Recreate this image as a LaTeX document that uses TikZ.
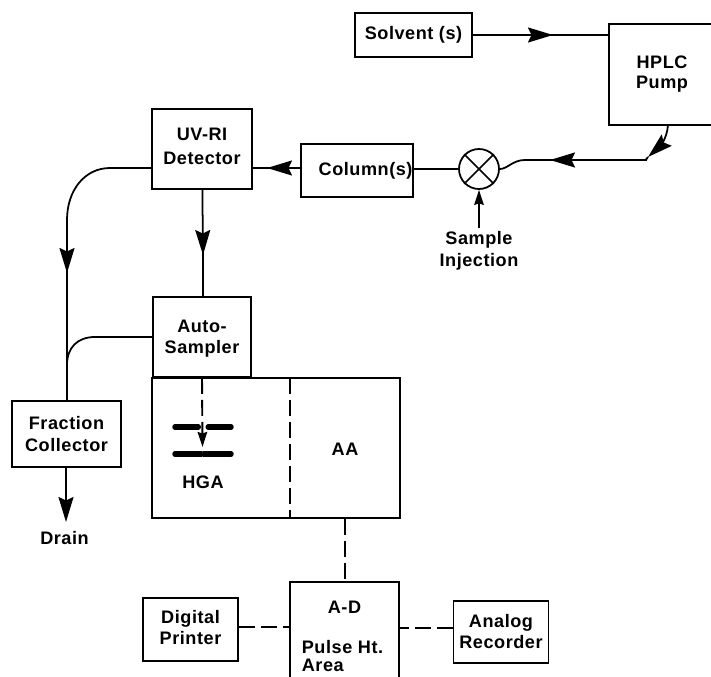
\documentclass[tikz,border=0pt]{standalone}
\usepackage{fontspec}
\setmainfont[LetterSpace=3]{Liberation Sans}
\usetikzlibrary{arrows.meta}

\begin{document}
\begin{tikzpicture}[
  box/.style={draw, line width=1pt, minimum width=#1, align=center, font=\fontsize{10.3}{12}\selectfont\bfseries},
  lbl/.style={align=center, inner sep=0pt, font=\fontsize{10.3}{12.5}\selectfont\bfseries},
  line/.style={line width=1pt},
  tail/.style={line width=1pt, shorten <=-0.12cm},
  thead/.style={line width=1pt, -{Stealth[length=0.5cm, width=0.3cm, inset=0.07cm]}},
  smallhead/.style={line width=1pt, -{Stealth[length=0.3cm, width=0.19cm, inset=0.03cm]}},
  dashline/.style={line width=1.1pt, dash pattern=on 0.32cm off 0.12cm},
  bar/.style={line width=0.11cm, line cap=round}
]
  % Page
  \useasboundingbox (0, 0) rectangle (14.22, -13.54);

  % Top row
  \node[box=2.34cm, minimum height=0.88cm] (solvent) at (8.27, -0.70) {Solvent (s)};
  \node[box=2.12cm, minimum height=2.02cm] (pump) at (13.24, -1.49) {HPLC\\[-0.02cm]Pump};
  \node[box=2.24cm, minimum height=1.06cm, text width=2.22cm, inner xsep=0.01cm, align=right] (column) at (7.14, -3.41) {Column(s)};
  \node[draw, line, circle, minimum size=0.8cm, inner sep=0pt] (mixer) at (9.58, -3.38) {};
  \node[lbl, outer sep=0.08cm] (sample) at (9.58, -5.02) {Sample\\Injection};
  \node[box=2.0cm, minimum height=1.6cm, text depth=0.12cm] (detector) at (4.04, -2.98) {UV-RI\\[0.06cm]Detector};

  % Left side
  \node[box=1.96cm, minimum height=1.6cm, text depth=0cm] (sampler) at (4.04, -6.74) {Auto-\\Sampler};
  \node[box=2.18cm, minimum height=1.32cm] (collector) at (1.33, -8.68) {Fraction\\Collector};
  \node[lbl] (drain) at (1.29, -10.76) {Drain};

  % Furnace and flame
  \node[draw, line, minimum width=4.96cm, minimum height=2.8cm] (atomizer) at (5.52, -8.96) {};
  \node[lbl] (hga) at (4.06, -9.64) {HGA};
  \node[lbl] (aa) at (6.90, -8.98) {AA};
  \coordinate (top) at (5.80, -7.56);
  \coordinate (bottom) at (5.80, -10.36);
  \node[inner sep=0pt] (upperl) at (3.99, -8.54) {};
  \node[inner sep=0pt] (upperr) at (4.14, -8.54) {};
  \node[inner sep=0pt] (lower) at (4.05, -9.08) {};

  % Read out
  \node[draw, line, minimum width=2.18cm, minimum height=2.4cm] (ad) at (6.89, -12.84) {};
  \node[lbl] (adtop) at (6.89, -12.14) {A-D};
  \node[lbl, align=left] (adtext) at (6.85, -13.12) {Pulse Ht.\\[-0.08cm]Area};
  \node[box=1.9cm, minimum height=1.26cm, text depth=0.1cm] (printer) at (3.81, -12.59) {Digital\\Printer};
  \node[box=1.88cm, minimum height=1.24cm, text depth=0.04cm] (recorder) at (10.02, -12.64) {Analog\\Recorder};

  % Arrow tips on the lines
  \coordinate (tipa) at (11.06, -0.70);
  \coordinate (tipb) at (12.96, -3.14);
  \coordinate (tipc) at (11.0, -3.2);
  \coordinate (tipd) at (5.34, -3.36);
  \coordinate (tipe) at (4.06, -5.1);
  \coordinate (tipf) at (1.34, -5.46);
  \coordinate (tipg) at (4.05, -8.94);
  \coordinate (tiph) at (1.32, -10.44);

  % Arrows
  \draw[thead] (solvent) -- (tipa);
  \draw[tail] (tipa) -- (tipa -| pump.west);
  \draw[thead] (13.36, -2.5) .. controls (13.34, -2.8) and (13.16, -2.96) .. (tipb);
  \draw[thead] (12.94, -3.2) -- (tipc);
  \draw[line] (tipb) .. controls (12.94, -3.17) and (12.92, -3.2) .. (12.9, -3.2);
  \draw[tail] (tipc) -- (10.5, -3.2) .. controls (10.25, -3.2) and (10.15, -3.38) .. (mixer.east);
  \draw[line] (mixer.west) -- (mixer.west -| column.east);
  \draw[line] (mixer.45) -- (mixer.225);
  \draw[line] (mixer.135) -- (mixer.315);
  \draw[smallhead] (sample) -- (mixer);
  \draw[thead] (column.west |- tipd) -- (tipd);
  \draw[tail] (tipd) -- (tipd -| detector.east);
  \draw[thead] (detector) -- (tipe);
  \draw[tail] (tipe) -- (tipe |- sampler.north);
  \draw[thead] (detector.west |- tipd) -- (2.2, -3.36) .. controls (1.7, -3.36) and (1.34, -3.8) .. (1.34, -4.4) -- (tipf);
  \draw[tail] (tipf) -- (tipf |- collector.north);
  \draw[line] (sampler.west) -- (1.9, -6.74) .. controls (1.55, -6.74) and (1.34, -6.95) .. (1.34, -7.3);
  \draw[thead] (collector.south -| tiph) -- (tiph);

  % Dashed links
  \draw[dashline] (top) -- (bottom);
  \draw[dashline] (atomizer.south -| aa) -- (ad.north -| aa);
  \draw[dashline] ([yshift=0.05cm]printer.east) -- ([yshift=0.05cm]printer.east -| ad.west);
  \draw[dashline] ([yshift=0.08cm]recorder.west) -- ([yshift=0.08cm]recorder.west -| ad.east);
  \draw[dashline, -{Stealth[length=0.3cm, width=0.19cm, inset=0.03cm]}] (sampler.south) -- (tipg);

  % Electrodes
  \draw[bar] (3.5, -8.54) -- (upperl);
  \draw[bar] (upperr) -- (4.62, -8.54);
  \draw[bar] (3.5, -9.08) -- (lower) -- (4.62, -9.08);
\end{tikzpicture}
\end{document}
